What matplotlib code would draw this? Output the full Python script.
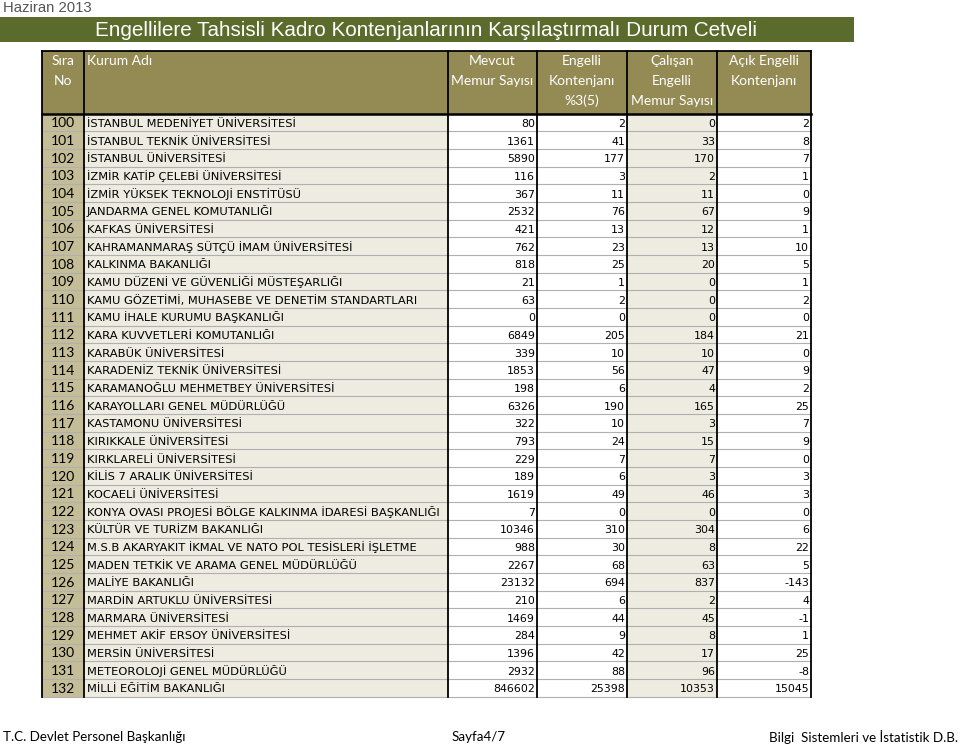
import matplotlib
matplotlib.use("Agg")
import matplotlib.pyplot as plt
from matplotlib.patches import Rectangle

# --- data ---
sira_no = list(range(100, 133))
kurum_adi = [
    "İSTANBUL MEDENİYET ÜNİVERSİTESİ",
    "İSTANBUL TEKNİK ÜNİVERSİTESİ",
    "İSTANBUL ÜNİVERSİTESİ",
    "İZMİR KATİP ÇELEBİ ÜNİVERSİTESİ",
    "İZMİR YÜKSEK TEKNOLOJİ ENSTİTÜSÜ",
    "JANDARMA GENEL KOMUTANLIĞI",
    "KAFKAS ÜNİVERSİTESİ",
    "KAHRAMANMARAŞ SÜTÇÜ İMAM ÜNİVERSİTESİ",
    "KALKINMA BAKANLIĞI",
    "KAMU DÜZENİ VE GÜVENLİĞİ MÜSTEŞARLIĞI",
    "KAMU GÖZETİMİ, MUHASEBE VE DENETİM STANDARTLARI",
    "KAMU İHALE KURUMU BAŞKANLIĞI",
    "KARA KUVVETLERİ KOMUTANLIĞI",
    "KARABÜK ÜNİVERSİTESİ",
    "KARADENİZ TEKNİK ÜNİVERSİTESİ",
    "KARAMANOĞLU MEHMETBEY ÜNİVERSİTESİ",
    "KARAYOLLARI GENEL MÜDÜRLÜĞÜ",
    "KASTAMONU ÜNİVERSİTESİ",
    "KIRIKKALE ÜNİVERSİTESİ",
    "KIRKLARELİ ÜNİVERSİTESİ",
    "KİLİS 7 ARALIK ÜNİVERSİTESİ",
    "KOCAELİ ÜNİVERSİTESİ",
    "KONYA OVASI PROJESİ BÖLGE KALKINMA İDARESİ BAŞKANLIĞI",
    "KÜLTÜR VE TURİZM BAKANLIĞI",
    "M.S.B AKARYAKIT İKMAL VE NATO POL TESİSLERİ İŞLETME",
    "MADEN TETKİK VE ARAMA GENEL MÜDÜRLÜĞÜ",
    "MALİYE BAKANLIĞI",
    "MARDİN ARTUKLU ÜNİVERSİTESİ",
    "MARMARA ÜNİVERSİTESİ",
    "MEHMET AKİF ERSOY ÜNİVERSİTESİ",
    "MERSİN ÜNİVERSİTESİ",
    "METEOROLOJİ GENEL MÜDÜRLÜĞÜ",
    "MİLLİ EĞİTİM BAKANLIĞI",
]
mevcut = [80, 1361, 5890, 116, 367, 2532, 421, 762, 818, 21, 63, 0, 6849, 339,
          1853, 198, 6326, 322, 793, 229, 189, 1619, 7, 10346, 988, 2267, 23132,
          210, 1469, 284, 1396, 2932, 846602]
kontenjan = [2, 41, 177, 3, 11, 76, 13, 23, 25, 1, 2, 0, 205, 10, 56, 6, 190, 10,
             24, 7, 6, 49, 0, 310, 30, 68, 694, 6, 44, 9, 42, 88, 25398]
calisan = [0, 33, 170, 2, 11, 67, 12, 13, 20, 0, 0, 0, 184, 10, 47, 4, 165, 3,
           15, 7, 3, 46, 0, 304, 8, 63, 837, 2, 45, 8, 17, 96, 10353]
acik = [2, 8, 7, 1, 0, 9, 1, 10, 5, 1, 2, 0, 21, 0, 9, 2, 25, 7, 9, 0, 3, 3, 0,
        6, 22, 5, -143, 4, -1, 1, 25, -8, 15045]

header_labels = [["Sıra", "No"], ["Kurum Adı"], ["Mevcut", "Memur Sayısı"],
                 ["Engelli", "Kontenjanı", "%3(5)"],
                 ["Çalışan", "Engelli", "Memur Sayısı"],
                 ["Açık Engelli", "Kontenjanı"]]

# --- layout (pixel coords) ---
W, H = 960, 748
col_edges = [42, 84, 448, 537, 627, 717, 811]
head_top, head_bot = 51, 113.5
row_h = 17.67
col_bg = ["#c4bd97", "#eeece1", "#ffffff", "#ffffff", "#eeece1", "#ffffff"]

fig = plt.figure(figsize=(W / 100, H / 100), dpi=100)
ax = fig.add_axes([0, 0, 1, 1])
ax.set_xlim(0, W)
ax.set_ylim(H, 0)
ax.axis("off")

row_font = "DejaVu Sans"
cal_font = "Lato"

ax.text(3, 7.5, "Haziran 2013", fontsize=10.7, family="Liberation Sans",
        color="#555555", va="center", ha="left")

# title band
ax.add_patch(Rectangle((0, 17), 854, 25, facecolor="#5a6b2c", edgecolor="none"))
ax.text(426, 30, "Engellilere Tahsisli Kadro Kontenjanlarının Karşılaştırmalı Durum Cetveli",
        fontsize=14.85, family="Liberation Sans", color="white", ha="center", va="center")

# header
ax.add_patch(Rectangle((col_edges[0], head_top), col_edges[-1] - col_edges[0],
                       head_bot - head_top, facecolor="#948a54", edgecolor="none"))
line_y = [61, 81, 101]
for c, labels in enumerate(header_labels):
    x0, x1 = col_edges[c], col_edges[c + 1]
    for k, lab in enumerate(labels):
        if c == 1:
            ax.text(x0 + 3, line_y[k], lab, fontsize=10, family=cal_font,
                    color="white", ha="left", va="center")
        else:
            ax.text((x0 + x1) / 2, line_y[k], lab, fontsize=10, family=cal_font,
                    color="white", ha="center", va="center")

# body
n = len(sira_no)
body_top = head_bot
body_bot = body_top + n * row_h
for c in range(6):
    ax.add_patch(Rectangle((col_edges[c], body_top), col_edges[c + 1] - col_edges[c],
                           body_bot - body_top, facecolor=col_bg[c], edgecolor="none"))

for i in range(n):
    yb = body_top + (i + 1) * row_h
    ax.plot([col_edges[0], col_edges[-1]], [yb, yb], color="#b0b0b0", lw=0.8)
    yc = body_top + (i + 0.5) * row_h
    base = yc + 4.5
    ax.text((col_edges[0] + col_edges[1]) / 2, base + 0.5, str(sira_no[i]), fontsize=10,
            family=cal_font, ha="center", va="baseline", color="black")
    ax.text(col_edges[1] + 3, base, kurum_adi[i], fontsize=8.25, family=row_font,
            ha="left", va="baseline", color="black")
    for c, vals in zip(range(2, 6), [mevcut, kontenjan, calisan, acik]):
        ax.text(col_edges[c + 1] - 2, base, str(vals[i]), fontsize=7.9, family=row_font,
                ha="right", va="baseline", color="black")

# borders
for x in col_edges:
    ax.plot([x, x], [head_top, body_bot], color="black", lw=1.3)
ax.plot([col_edges[0], col_edges[-1]], [head_top, head_top], color="black", lw=1.3)
ax.plot([col_edges[0], col_edges[-1]], [head_bot, head_bot], color="black", lw=1.8)

# footer
ax.text(3, 737, "T.C. Devlet Personel Başkanlığı", fontsize=9.6, family=cal_font,
        ha="left", va="center", color="black")
ax.text(452, 737, "Sayfa4/7", fontsize=9.6, family=cal_font,
        ha="left", va="center", color="black")
ax.text(958, 737, "Bilgi  Sistemleri ve İstatistik D.B.", fontsize=9.6, family=cal_font,
        ha="right", va="center", color="black")

fig.savefig("out.png", dpi=100)
